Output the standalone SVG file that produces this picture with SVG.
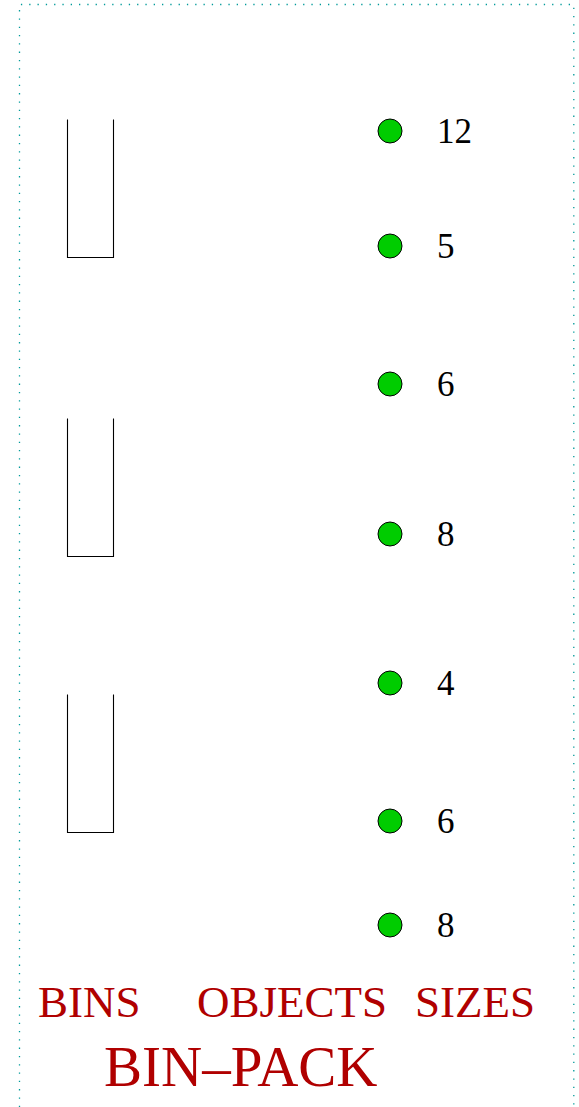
<svg xmlns="http://www.w3.org/2000/svg" width="579" height="1107" viewBox="0 0 579 1107">
<style>
.frame{fill:none;stroke:#009a9a;stroke-width:1.3;stroke-dasharray:1.3 7}
.bin{fill:none;stroke:#000;stroke-width:1.1}
.obj{fill:#00cc00;stroke:#000;stroke-width:1}
.num{font-family:"Liberation Serif",serif;font-size:35px;fill:#000}
.lbl{font-family:"Liberation Serif",serif;font-size:45px;fill:#b00000}
.title{font-family:"Liberation Serif",serif;font-size:57px;fill:#b00000}
</style>
<rect width="579" height="1107" fill="#fff"/>
<path class="frame" d="M19.5,1107 V4.5 H573.8 V1107"/>
<g id="bin1"><path class="bin" d="M67.5,119.5 V257.5 H113.5 V119.5"/></g>
<g id="bin2"><path class="bin" d="M67.5,418.5 V556.5 H113.5 V418.5"/></g>
<g id="bin3"><path class="bin" d="M67.5,694.5 V832.5 H113.5 V694.5"/></g>
<g id="obj1"><circle class="obj" cx="390" cy="131" r="12"/><text class="num" x="437" y="143">12</text></g>
<g id="obj2"><circle class="obj" cx="390" cy="246" r="12"/><text class="num" x="437" y="258">5</text></g>
<g id="obj3"><circle class="obj" cx="390" cy="384" r="12"/><text class="num" x="437" y="396">6</text></g>
<g id="obj4"><circle class="obj" cx="390" cy="534" r="12"/><text class="num" x="437" y="546">8</text></g>
<g id="obj5"><circle class="obj" cx="390" cy="683" r="12"/><text class="num" x="437" y="695">4</text></g>
<g id="obj6"><circle class="obj" cx="390" cy="821" r="12"/><text class="num" x="437" y="833">6</text></g>
<g id="obj7"><circle class="obj" cx="390" cy="925" r="12"/><text class="num" x="437" y="937">8</text></g>
<g id="connectors"/>
<g id="labels">
<text class="lbl" x="38" y="1017">BINS</text>
<text class="lbl" x="197" y="1017">OBJECTS</text>
<text class="lbl" x="415" y="1017">SIZES</text>
<text class="title" x="104" y="1086">BIN–PACK</text>
</g>
</svg>
